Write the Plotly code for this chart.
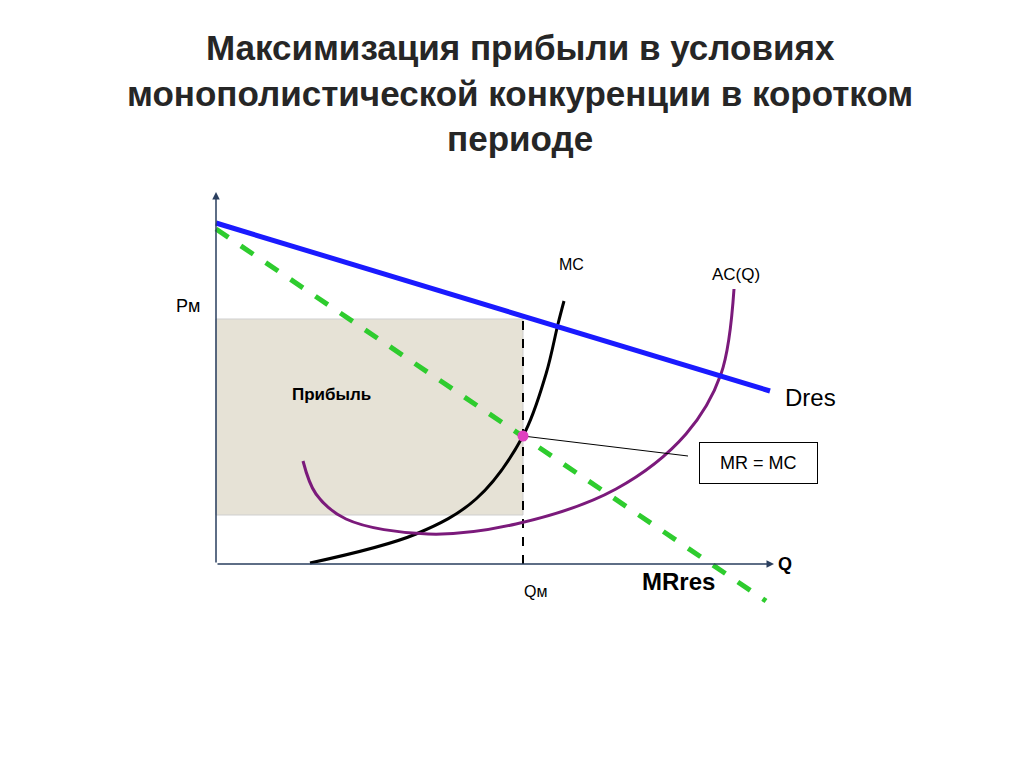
import plotly.graph_objects as go

# data coordinates: origin at axes corner
d_x = [0, 554]; d_y = [341, 173]
mr_x = [0, 550]; mr_y = [335, -37]
mc_x = [94, 200, 260, 307, 330, 342, 348]
mc_y = [1, 30, 65, 128, 190, 240, 263]
ac_x = [87, 100, 130, 212, 300, 400, 470, 505, 518]
ac_y = [103, 70, 45, 30, 40, 75, 130, 190, 275]
qm = 307; pm = 245; p_low = 49; mr_mc = 128

fig = go.Figure()
fig.add_shape(type="rect", x0=0, x1=qm, y0=p_low, y1=pm, fillcolor="#e6e2d6",
              line=dict(color="#cfcfcf", width=1), layer="below")
fig.add_trace(go.Scatter(x=[qm, qm], y=[0, pm], mode="lines", line=dict(color="black", width=2, dash="dash")))
fig.add_trace(go.Scatter(x=mc_x, y=mc_y, mode="lines", line=dict(color="black", width=3, shape="spline")))
fig.add_trace(go.Scatter(x=ac_x, y=ac_y, mode="lines", line=dict(color="#7b1a7b", width=3, shape="spline")))
fig.add_trace(go.Scatter(x=mr_x, y=mr_y, mode="lines", line=dict(color="#2ecc2e", width=5, dash="dash")))
fig.add_trace(go.Scatter(x=d_x, y=d_y, mode="lines", line=dict(color="#1a1aff", width=5)))
fig.add_trace(go.Scatter(x=[qm, 472], y=[mr_mc, 108], mode="lines", line=dict(color="black", width=1)))
fig.add_trace(go.Scatter(x=[qm], y=[mr_mc], mode="markers", marker=dict(color="#e040c0", size=11)))

# axes
fig.add_annotation(x=0, y=372, ax=0, ay=0, axref="x", ayref="y", showarrow=True, arrowhead=2, arrowwidth=1.5, text="")
fig.add_annotation(x=558, y=0, ax=0, ay=0, axref="x", ayref="y", showarrow=True, arrowhead=2, arrowwidth=1.5, text="")

F = "Liberation Sans"
def t(x, y, s, size=18, bold=False):
    fig.add_annotation(x=x, y=y, text=f"<b>{s}</b>" if bold else s, showarrow=False,
                       font=dict(family=F, size=size, color="black"))
t(-28, 258, "Pм", 18)
t(319, -27, "Qм", 16)
t(355, 300, "MC", 16)
t(520, 290, "AC(Q)", 17)
t(594, 167, "Dres", 24)
t(462, -17, "MRres", 24, True)
t(569, 0, "Q", 18, True)
t(115, 170, "Прибыль", 17, True)
fig.add_annotation(x=542, y=101, text="  MR = MC  ", showarrow=False, font=dict(family=F, size=18, color="black"),
                   bordercolor="black", borderwidth=1, borderpad=10, bgcolor="white")

fig.add_annotation(xref="paper", yref="paper", x=0.5, y=1 - 18/767, yanchor="top", text=
    "<b>Максимизация прибыли в условиях<br>монополистической конкуренции в коротком<br>периоде</b>",
    showarrow=False, font=dict(family=F, size=35, color="#262626"), align="center")

fig.update_layout(width=1024, height=767, margin=dict(l=0, r=0, t=0, b=0),
                  plot_bgcolor="white", paper_bgcolor="white", showlegend=False,
                  xaxis=dict(range=[-208, 816], visible=False),
                  yaxis=dict(range=[-211, 556], visible=False))
fig.write_html("out.html")
